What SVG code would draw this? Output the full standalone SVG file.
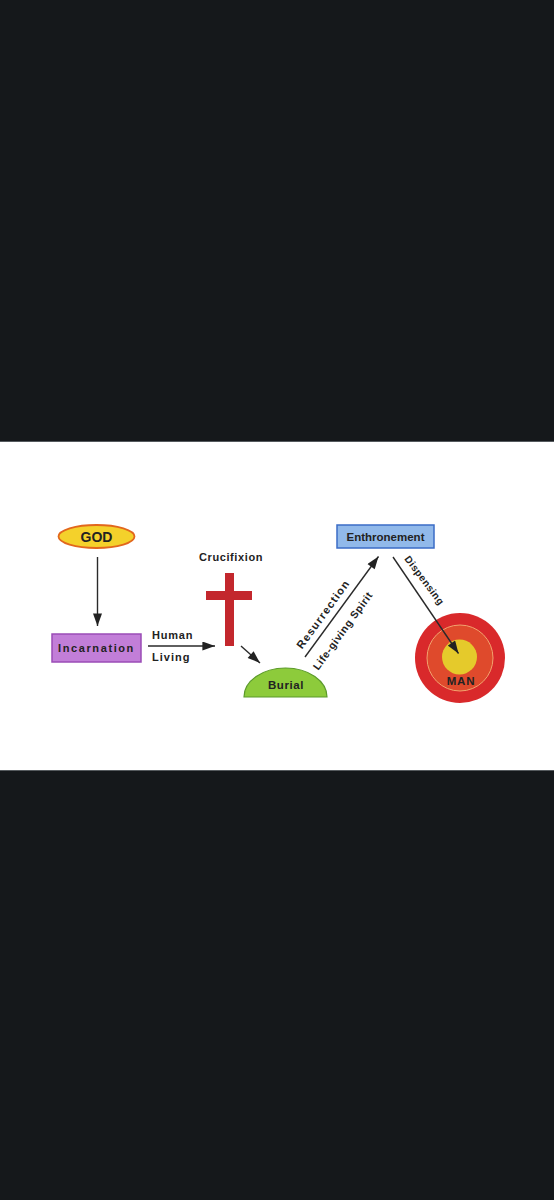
<svg xmlns="http://www.w3.org/2000/svg" width="554" height="1200" viewBox="0 0 554 1200">
  <defs>
    <marker id="ah" viewBox="0 0 14 10" refX="14" refY="5" markerWidth="14" markerHeight="9" markerUnits="userSpaceOnUse" orient="auto">
      <path d="M0,0 L14,5 L0,10 Z" fill="#222"/>
    </marker>
    <style>
      .t { font-family: "Liberation Sans", Arial, sans-serif; font-weight: bold; fill: #222; }
      .c { stroke: #2a2a2a; stroke-width: 1.4; fill: none; marker-end: url(#ah); }
    </style>
  </defs>
  <rect x="0" y="0" width="554" height="1200" fill="#15181b"/>
  <rect x="0" y="441" width="554" height="330" fill="#555a5e"/>
  <rect x="0" y="442" width="554" height="328" fill="#ffffff"/>

  <g id="god">
    <ellipse cx="96.5" cy="536.5" rx="38" ry="11.5" fill="#f4d12b" stroke="#e2671d" stroke-width="1.8"/>
    <text class="t" x="96.5" y="541.5" font-size="14" text-anchor="middle">GOD</text>
  </g>

  <g id="incarnation">
    <rect x="52" y="634" width="89" height="28" fill="#c27ed8" stroke="#9a4cb6" stroke-width="1.5"/>
    <text class="t" x="96.5" y="652" font-size="11" letter-spacing="1.6" text-anchor="middle" fill="#333">Incarnation</text>
  </g>

  <g id="crucifixion">
    <text class="t" x="231" y="560.5" font-size="11" letter-spacing="0.6" text-anchor="middle">Crucifixion</text>
    <rect x="225" y="573" width="9" height="73" fill="#c3272d"/>
    <rect x="206" y="591" width="46" height="9" fill="#c3272d"/>
  </g>

  <g id="burial">
    <path d="M244,697 A41.5,29 0 0 1 327,697 Z" fill="#8dcb3b" stroke="#5b9a2a" stroke-width="1.2"/>
    <text class="t" x="286" y="689" font-size="11.5" letter-spacing="0.6" text-anchor="middle">Burial</text>
  </g>

  <g id="enthronement">
    <rect x="337" y="525" width="97" height="23" fill="#91b9ea" stroke="#3b6cc6" stroke-width="1.5"/>
    <text class="t" x="385.5" y="541" font-size="11.5" text-anchor="middle">Enthronement</text>
  </g>

  <g id="man">
    <circle cx="460" cy="658" r="45" fill="#d9292b"/>
    <circle cx="460" cy="658" r="33" fill="#df4a2c" stroke="#f2a36e" stroke-width="1"/>
    <circle cx="459.5" cy="657" r="17.5" fill="#e5ca2b"/>
    <text class="t" x="461" y="685" font-size="11.5" letter-spacing="0.8" text-anchor="middle" fill="#5a2418">MAN</text>
  </g>

  <g id="connectors">
    <line class="c" x1="97.5" y1="557" x2="97.5" y2="626"/>
    <line class="c" x1="148" y1="646" x2="215" y2="646"/>
    <line class="c" x1="241" y1="646" x2="260" y2="663"/>
    <line class="c" x1="305" y1="657" x2="378.5" y2="556.5"/>
    <line class="c" x1="393" y1="557" x2="458.5" y2="653.5"/>
    <text class="t" x="152" y="639" font-size="11" letter-spacing="0.8">Human</text>
    <text class="t" x="152" y="661" font-size="11" letter-spacing="1">Living</text>
    <text class="t" font-size="11" letter-spacing="1.2" text-anchor="middle" transform="translate(323,614) rotate(-54)" y="4">Resurrection</text>
    <text class="t" font-size="10.5" letter-spacing="0.6" text-anchor="middle" transform="translate(342.5,630.5) rotate(-54)" y="4">Life-giving Spirit</text>
    <text class="t" font-size="10" letter-spacing="0.5" text-anchor="middle" transform="translate(425,580) rotate(53)" y="4">Dispensing</text>
  </g>
</svg>
